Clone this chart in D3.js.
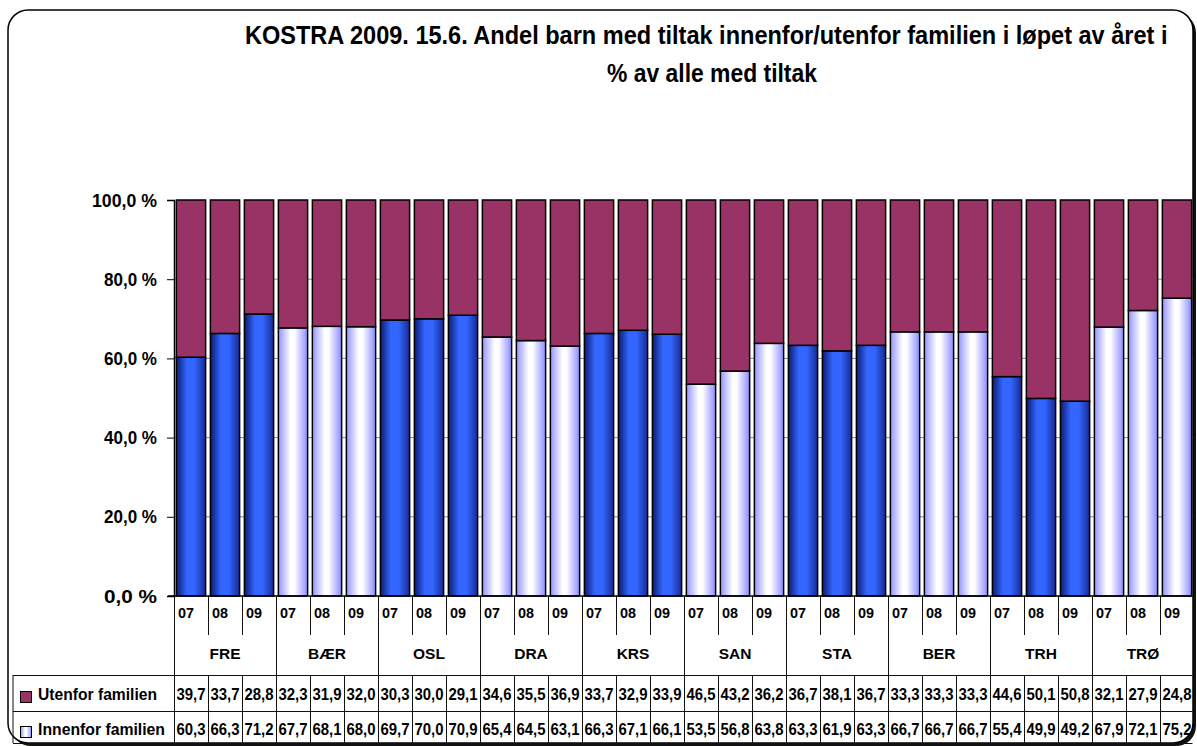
<!DOCTYPE html>
<html>
<head>
<meta charset="utf-8">
<script src="https://cdn.jsdelivr.net/npm/d3@7"></script>
<style>
  html, body { margin: 0; padding: 0; background: #fff; }
  svg { display: block; font-family: "Liberation Sans", Arial, sans-serif; font-weight: bold; }
</style>
</head>
<body>
<svg id="chart" width="1197" height="746"></svg>
<script>
// Municipalities (groups) and years shown under each bar
const groups = ["FRE", "BÆR", "OSL", "DRA", "KRS", "SAN", "STA", "BER", "TRH", "TRØ"];
const years = ["07", "08", "09"];

// Share of children with measures outside / inside the family (%)
const utenfor = [39.7, 33.7, 28.8, 32.3, 31.9, 32.0, 30.3, 30.0, 29.1, 34.6, 35.5, 36.9,
                 33.7, 32.9, 33.9, 46.5, 43.2, 36.2, 36.7, 38.1, 36.7, 33.3, 33.3, 33.3,
                 44.6, 50.1, 50.8, 32.1, 27.9, 24.8];
const innenfor = [60.3, 66.3, 71.2, 67.7, 68.1, 68.0, 69.7, 70.0, 70.9, 65.4, 64.5, 63.1,
                  66.3, 67.1, 66.1, 53.5, 56.8, 63.8, 63.3, 61.9, 63.3, 66.7, 66.7, 66.7,
                  55.4, 49.9, 49.2, 67.9, 72.1, 75.2];

const seriesNames = ["Utenfor familien", "Innenfor familien"];
const titleLines = ["KOSTRA 2009. 15.6. Andel barn med tiltak innenfor/utenfor familien i løpet av året i",
                    "% av alle med tiltak"];
const yTicks = [0, 20, 40, 60, 80, 100];

const rows = [];
groups.forEach((g, gi) => years.forEach((y, yi) => {
  const i = gi * 3 + yi;
  rows.push({ id: g + y, group: g, gi, year: y, innenfor: innenfor[i], utenfor: utenfor[i] });
}));

const svg = d3.select("#chart");
const defs = svg.append("defs");

function hGrad(id, stops) {
  const g = defs.append("linearGradient").attr("id", id)
    .attr("x1", "0%").attr("x2", "100%").attr("y1", "0%").attr("y2", "0%");
  stops.forEach(([o, c]) => g.append("stop").attr("offset", o).attr("stop-color", c));
}
hGrad("blueFill", [["0%", "#0c1a70"], ["36%", "#3366ff"], ["62%", "#3366ff"], ["100%", "#172a94"]]);
hGrad("lightFill", [["0%", "#9494ff"], ["42%", "#ffffff"], ["55%", "#ffffff"], ["100%", "#8c8cff"]]);

defs.append("clipPath").attr("id", "frameClip")
  .append("rect").attr("x", 0).attr("y", 0).attr("width", 1192.5).attr("height", 746);

// Frame with drop shadow
const fx = 8, fy = 10, fw = 1185, fh = 733, fr = 20;
svg.append("rect").attr("x", fx + 3).attr("y", fy + 3).attr("width", fw).attr("height", fh)
  .attr("rx", fr).attr("fill", "#111");
svg.append("rect").attr("x", fx).attr("y", fy).attr("width", fw).attr("height", fh)
  .attr("rx", fr).attr("fill", "#fff").attr("stroke", "#000").attr("stroke-width", 1.5);

// Title: condensed bold lines, squeezed horizontally to a target width
const title = svg.append("g").attr("font-size", 25).attr("fill", "#000");
[[titleLines[0], 245, 44, 923], [titleLines[1], 607, 82, 210]].forEach(([txt, tx, ty, w]) => {
  const t = title.append("text").attr("x", 0).attr("y", 0).text(txt);
  const natural = t.node().getComputedTextLength();
  t.attr("transform", `translate(${tx},${ty}) scale(${w / natural},1)`);
});

const content = svg.append("g").attr("clip-path", "url(#frameClip)");

// Scales
const plotLeft = 174, plotRight = 1194, plotTop = 200, plotBottom = 596;
const x = d3.scaleBand().domain(rows.map(d => d.id)).range([plotLeft, plotRight])
  .paddingInner(0.14).paddingOuter(0.07);
const step = x.step();
const slotLeft = id => x(id) - x.paddingInner() * step / 2;
const y = d3.scaleLinear().domain([0, 100]).range([plotBottom, plotTop]);

// Gridlines
content.append("g").selectAll("line").data(yTicks.filter(t => t > 0 && t < 100)).join("line")
  .attr("x1", plotLeft).attr("x2", plotRight)
  .attr("y1", d => y(d)).attr("y2", d => y(d))
  .attr("stroke", "#8a8a8a").attr("stroke-width", 1);

// Stacked bars
const stack = d3.stack().keys(["innenfor", "utenfor"]);
const stacked = stack(rows);
const barG = content.append("g");
stacked.forEach(layer => {
  barG.append("g").selectAll("rect").data(layer).join("rect")
    .attr("x", d => x(d.data.id))
    .attr("width", x.bandwidth())
    .attr("y", d => y(d[1]))
    .attr("height", d => y(d[0]) - y(d[1]))
    .attr("fill", d => layer.key === "utenfor" ? "#993366"
      : (d.data.gi % 2 === 0 ? "url(#blueFill)" : "url(#lightFill)"))
    .attr("stroke", "#000").attr("stroke-width", 1.5);
});

// Y axis
const yAxis = d3.axisLeft(y).tickValues(yTicks).tickSize(7).tickPadding(10)
  .tickFormat(d => d3.format(".1f")(d).replace(".", ",") + " %");
const yg = svg.append("g").attr("transform", `translate(${plotLeft},0)`).call(yAxis);
yg.select(".domain").attr("stroke", "#000").attr("stroke-width", 1.5);
yg.selectAll(".tick line").attr("stroke", "#000").attr("stroke-width", 1);
yg.selectAll(".tick text").attr("font-size", 19).attr("font-weight", "bold")
  .attr("font-family", "Liberation Sans, Arial, sans-serif").attr("fill", "#000")
  .attr("textLength", d => d === 100 ? 65 : 53).attr("lengthAdjust", "spacingAndGlyphs");

// Category area and data table
const tbl = content.append("g");
const rowTop = 675, rowMid = 711, rowBottom = 743, tableLeft = 13;
tbl.append("line").attr("x1", plotLeft - 6).attr("x2", plotRight)
  .attr("y1", plotBottom).attr("y2", plotBottom).attr("stroke", "#000").attr("stroke-width", 1.5);

// slot dividers: short within a group, full height at group boundaries
rows.forEach((d, i) => {
  const sx = Math.round(slotLeft(d.id)) + 0.5;
  const groupStart = i % 3 === 0;
  tbl.append("line").attr("x1", sx).attr("x2", sx)
    .attr("y1", plotBottom).attr("y2", groupStart ? rowTop : 635)
    .attr("stroke", "#111").attr("stroke-width", 1);
  tbl.append("line").attr("x1", sx).attr("x2", sx)
    .attr("y1", rowTop).attr("y2", rowBottom)
    .attr("stroke", "#111").attr("stroke-width", 1);
});
tbl.append("line").attr("x1", tableLeft).attr("x2", tableLeft)
  .attr("y1", rowTop).attr("y2", rowBottom).attr("stroke", "#111");
[rowTop, rowMid, rowBottom].forEach(yy => {
  tbl.append("line").attr("x1", tableLeft).attr("x2", plotRight)
    .attr("y1", yy + 0.5).attr("y2", yy + 0.5).attr("stroke", "#111").attr("stroke-width", 1);
});

// year labels
tbl.append("g").selectAll("text").data(rows).join("text")
  .attr("x", d => slotLeft(d.id) + 4).attr("y", 618)
  .attr("font-size", 15).attr("fill", "#000")
  .attr("textLength", 16).attr("lengthAdjust", "spacingAndGlyphs").text(d => d.year);

// group labels
tbl.append("g").selectAll("text").data(groups).join("text")
  .attr("x", (g, gi) => slotLeft(rows[gi * 3].id) + step * 1.5).attr("y", 659)
  .attr("text-anchor", "middle").attr("font-size", 15.5).attr("fill", "#000").text(g => g);

// values
const fmt = v => d3.format(".1f")(v).replace(".", ",");
[["utenfor", 700], ["innenfor", 735]].forEach(([key, by]) => {
  tbl.append("g").selectAll("text").data(rows).join("text")
    .attr("x", d => x(d.id) + x.bandwidth() / 2).attr("y", by)
    .attr("text-anchor", "middle").attr("font-size", 16).attr("fill", "#000")
    .attr("textLength", 29).attr("lengthAdjust", "spacingAndGlyphs")
    .text(d => fmt(d[key]));
});

// legend keys in the table
const legend = svg.append("g");
legend.append("rect").attr("x", 20.5).attr("y", 691.5).attr("width", 11).attr("height", 11)
  .attr("fill", "#993366").attr("stroke", "#000").attr("stroke-width", 1);
legend.append("rect").attr("x", 20.5).attr("y", 726.5).attr("width", 11).attr("height", 11)
  .attr("fill", "url(#lightFill)").attr("stroke", "#000").attr("stroke-width", 1);
legend.append("text").attr("x", 38).attr("y", 700).attr("font-size", 16)
  .attr("textLength", 119).attr("lengthAdjust", "spacingAndGlyphs").text(seriesNames[0]);
legend.append("text").attr("x", 38).attr("y", 735).attr("font-size", 16)
  .attr("textLength", 127).attr("lengthAdjust", "spacingAndGlyphs").text(seriesNames[1]);
</script>
</body>
</html>
